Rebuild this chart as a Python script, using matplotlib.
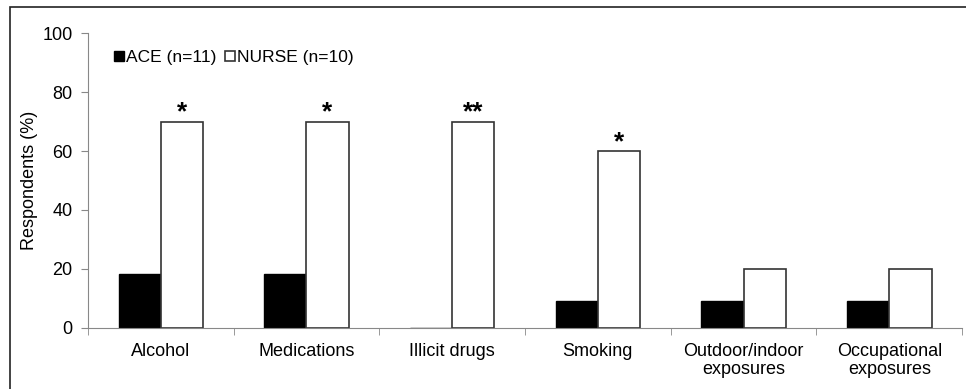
import numpy as np
import matplotlib.pyplot as plt
from matplotlib.patches import Rectangle

categories = ["Alcohol", "Medications", "Illicit drugs", "Smoking",
              "Outdoor/indoor\nexposures", "Occupational\nexposures"]
ace = [18.2, 18.2, 0, 9.1, 9.1, 9.1]
nurse = [70, 70, 70, 60, 20, 20]
stars = ["*", "*", "**", "*", "", ""]


def main():
    plt.rcParams["font.family"] = ["Liberation Sans", "DejaVu Sans"]
    fig = plt.figure(figsize=(9.66, 3.89), dpi=100)
    ax = fig.add_axes([0.091, 0.157, 0.905, 0.758])

    # frame round the whole picture
    fig.patches.append(Rectangle((10 / 966, -0.05), 1.1, 1 - 7 / 389 + 0.05,
                                 transform=fig.transFigure, fill=False,
                                 edgecolor="#222222", linewidth=1.2))

    x = np.arange(len(categories))
    w = 0.29
    ax.bar(x - w / 2, ace, w, color="black", edgecolor="black",
           linewidth=1, label="ACE (n=11)")
    ax.bar(x + w / 2, nurse, w, color="white", edgecolor="#333333",
           linewidth=1.2, label="NURSE (n=10)")

    for xi, v, s in zip(x, nurse, stars):
        if s:
            ax.text(xi + w / 2, v - 1, s, ha="center", va="bottom",
                    fontsize=19, fontweight="bold")

    ax.set_xlim(-0.5, len(categories) - 0.5)
    ax.set_ylim(0, 100)
    ax.set_yticks(range(0, 101, 20))
    ax.set_xticks(x)
    ax.set_xticklabels(categories, fontsize=13, linespacing=1.05)
    ax.set_xticks(np.arange(-0.5, len(categories)), minor=True)
    ax.tick_params(axis="x", which="major", length=0, pad=11)
    ax.tick_params(axis="x", which="minor", length=5, color="#888888")
    ax.tick_params(axis="y", length=5, color="#888888", labelsize=13, pad=6)
    ax.set_ylabel("Respondents (%)", fontsize=13)
    ax.yaxis.set_label_coords(-0.057, 0.5)

    for side in ["top", "right"]:
        ax.spines[side].set_visible(False)
    for side in ["left", "bottom"]:
        ax.spines[side].set_color("#888888")

    ax.legend(loc="upper left", bbox_to_anchor=(0.012, 0.995), ncol=2,
              frameon=False, fontsize=12.5, handlelength=0.55,
              handleheight=0.55, handletextpad=0.15, columnspacing=0.5)

    fig.savefig("out.png", dpi=100)


if __name__ == "__main__":
    main()
